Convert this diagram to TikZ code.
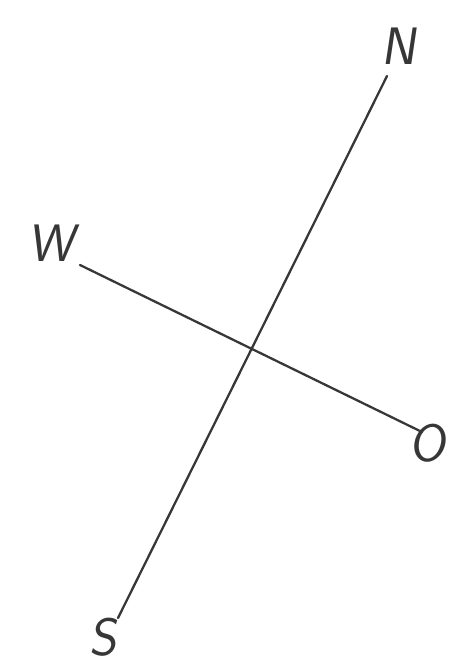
\documentclass[tikz,border=0pt]{standalone}
\usepackage{tikz}
\usetikzlibrary{positioning}
\definecolor{pencil}{RGB}{55, 55, 55}

\tikzset{
    axisline/.style={draw=pencil, line width=1.3pt, line cap=round},
    dirlabel/.style={text=pencil, font=\sffamily\fontsize{30}{30}\selectfont, inner sep=0pt, xslant=0.15}
}

\begin{document}
\begin{tikzpicture}[x=0.02cm, y=-0.02cm]
\useasboundingbox (0,0) rectangle (458,663);
% ends of the two strokes
\coordinate (nEnd) at (387,76);
\coordinate (sEnd) at (118,618);
\coordinate (wEnd) at (80,265);
\coordinate (oEnd) at (422,432);
\draw[axisline] (nEnd) -- (sEnd);
\draw[axisline] (wEnd) -- (oEnd);
% letters
\node[dirlabel] (nLabel) at (402,46) {N};
\node[dirlabel] (wLabel) at (55,243) {W};
\node[dirlabel] (oLabel) at (431,443) {O};
\node[dirlabel] (sLabel) at (106,637) {S};
\end{tikzpicture}
\end{document}
